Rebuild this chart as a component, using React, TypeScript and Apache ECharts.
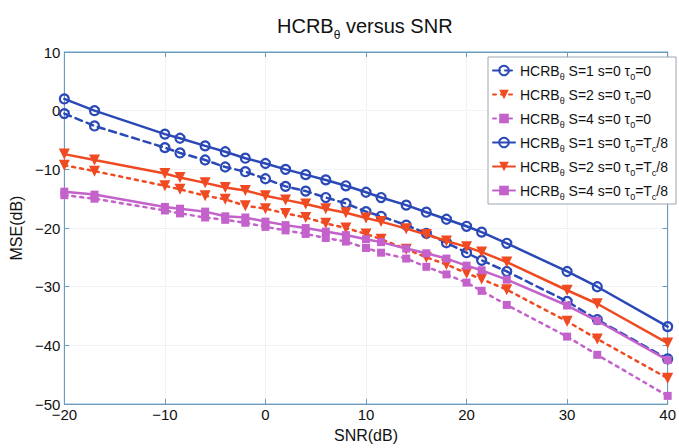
import React, { useEffect, useRef } from "react";
import * as echarts from "echarts";

const snrDb = [-20, -17, -10, -8.5, -6, -4, -2, 0, 2, 4, 6, 8, 10, 11.5, 14, 16, 18, 20, 21.5, 24, 30, 33, 40];

const s1Tau0 = [-0.5, -2.6, -6.3, -7.2, -8.4, -9.6, -10.4, -11.6, -12.9, -13.7, -14.8, -15.8, -17.2, -18.0, -19.5, -20.9, -22.5, -24.2, -25.5, -27.4, -32.5, -35.6, -42.3];
const s2Tau0 = [-9.3, -10.3, -12.8, -13.4, -14.5, -15.1, -16.2, -16.7, -17.5, -18.2, -19.2, -20.0, -21.0, -21.9, -23.6, -25.0, -26.2, -27.7, -28.7, -30.5, -35.9, -38.9, -45.6];
const s4Tau0 = [-14.4, -15.0, -17.0, -17.5, -18.2, -18.6, -19.1, -19.8, -20.4, -21.0, -21.7, -22.3, -23.4, -24.2, -25.2, -26.6, -27.9, -29.3, -30.7, -33.1, -38.5, -41.6, -48.6];
const s1TauTc8 = [2.0, 0.0, -4.0, -4.7, -6.0, -7.0, -8.1, -9.0, -10.0, -10.9, -11.8, -12.8, -13.9, -14.8, -16.1, -17.3, -18.5, -19.7, -20.7, -22.6, -27.4, -30.0, -36.8];
const s2TauTc8 = [-7.4, -8.4, -10.7, -11.4, -12.3, -13.1, -13.6, -14.5, -15.2, -15.9, -16.7, -17.4, -18.3, -18.9, -20.1, -21.1, -22.2, -23.2, -24.1, -25.8, -30.6, -32.9, -39.6];
const s4TauTc8 = [-13.8, -14.3, -16.4, -16.7, -17.2, -18.0, -18.2, -18.9, -19.5, -20.0, -20.6, -21.2, -21.9, -22.4, -23.5, -24.3, -25.2, -26.4, -27.2, -28.8, -33.2, -35.8, -42.5];

const seriesKeys = ["s1t0", "s2t0", "s4t0", "s1tc", "s2tc", "s4tc"];
const legendLabels = [
  "HCRB{s|θ} S=1 s=0 τ{s|0}=0",
  "HCRB{s|θ} S=2 s=0 τ{s|0}=0",
  "HCRB{s|θ} S=4 s=0 τ{s|0}=0",
  "HCRB{s|θ} S=1 s=0 τ{s|0}=T{s|c}/8",
  "HCRB{s|θ} S=2 s=0 τ{s|0}=T{s|c}/8",
  "HCRB{s|θ} S=4 s=0 τ{s|0}=T{s|c}/8",
];
const xTicks = { min: -20, max: 40, step: 10 };
const yTicks = { min: -50, max: 10, step: 10 };

const BLUE = "#2a49b6";
const RED = "#f04a22";
const PURPLE = "#c462cc";
const AXIS = "#6b9cbf";
const FONT = "Liberation Sans, Arial, sans-serif";

export default function App() {
  const ref = useRef<HTMLDivElement>(null);
  useEffect(() => {
    const chart = echarts.init(ref.current!, null, { renderer: "svg" });
    const values = [s1Tau0, s2Tau0, s4Tau0, s1TauTc8, s2TauTc8, s4TauTc8];
    const styles = [
      { color: BLUE, symbol: "circle", size: 9, rotate: 0, dash: [7, 5] as any, fill: "rgba(255,255,255,0)" },
      { color: RED, symbol: "triangle", size: 11, rotate: 180, dash: [3, 5] as any, fill: RED },
      { color: PURPLE, symbol: "rect", size: 8, rotate: 0, dash: [3, 5] as any, fill: PURPLE },
      { color: BLUE, symbol: "circle", size: 9, rotate: 0, dash: "solid" as any, fill: "rgba(255,255,255,0)" },
      { color: RED, symbol: "triangle", size: 11, rotate: 180, dash: "solid" as any, fill: RED },
      { color: PURPLE, symbol: "rect", size: 8, rotate: 0, dash: "solid" as any, fill: PURPLE },
    ];
    const labelMap: Record<string, string> = {};
    seriesKeys.forEach((k, i) => (labelMap[k] = legendLabels[i]));
    const fmt = (v: number) => String(v).replace("-", "−");
    const series = seriesKeys.map((k, i) => ({
      name: k,
      type: "line",
      data: snrDb.map((x, j) => [x, values[i][j]]),
      symbol: styles[i].symbol,
      symbolSize: styles[i].size,
      symbolRotate: styles[i].rotate,
      showAllSymbol: true,
      lineStyle: { color: styles[i].color, width: 2.5, type: styles[i].dash, cap: "round" },
      itemStyle: { color: styles[i].fill, borderColor: styles[i].color, borderWidth: styles[i].symbol === "circle" ? 2.2 : 0 },
      emphasis: { disabled: true },
      z: 2 + i,
    }));
    chart.setOption({
      animation: false,
      backgroundColor: "#ffffff",
      textStyle: { fontFamily: FONT },
      title: {
        text: "HCRB{s|θ} versus SNR",
        left: 272,
        top: 6,
        textStyle: {
          fontFamily: FONT,
          fontSize: 20,
          lineHeight: 30,
          fontWeight: "normal",
          color: "#111",
          rich: { s: { fontSize: 12, fontFamily: FONT, color: "#111", verticalAlign: "bottom", lineHeight: 12 } },
        },
      },
      grid: { left: 59, top: 52, right: 6, bottom: 30, show: true, borderColor: AXIS, borderWidth: 1 },
      legend: {
        orient: "vertical",
        left: 488,
        top: 57,
        padding: [3, 8, 3, 4],
        itemWidth: 22,
        itemHeight: 12,
        itemGap: 3,
        backgroundColor: "#ffffff",
        borderColor: "#9aa6b0",
        borderWidth: 1,
        selectedMode: false,
        data: seriesKeys,
        formatter: (name: string) => labelMap[name],
        textStyle: {
          fontFamily: FONT,
          fontSize: 14,
          lineHeight: 21,
          color: "#111",
          rich: { s: { fontSize: 9, fontFamily: FONT, color: "#111", verticalAlign: "bottom", lineHeight: 9 } },
        },
      },
      xAxis: [
        {
          type: "value",
          min: xTicks.min,
          max: xTicks.max,
          interval: xTicks.step,
          position: "bottom",
          name: "SNR(dB)",
          nameLocation: "middle",
          nameGap: 20,
          nameTextStyle: { fontFamily: FONT, fontSize: 16, color: "#111" },
          axisLine: { onZero: false, lineStyle: { color: AXIS, width: 1 } },
          axisTick: { inside: true, length: 5, lineStyle: { color: AXIS } },
          axisLabel: { color: "#111", fontSize: 15, fontFamily: FONT, margin: 3, formatter: fmt },
          splitLine: { show: true, lineStyle: { color: "#dde8f1", type: "dotted", width: 1 } },
        },
        {
          type: "value",
          min: xTicks.min,
          max: xTicks.max,
          interval: xTicks.step,
          position: "top",
          axisLine: { onZero: false, lineStyle: { color: AXIS, width: 1 } },
          axisTick: { inside: true, length: 5, lineStyle: { color: AXIS } },
          axisLabel: { show: false },
          splitLine: { show: false },
        },
      ],
      yAxis: [
        {
          type: "value",
          min: yTicks.min,
          max: yTicks.max,
          interval: yTicks.step,
          position: "left",
          name: "MSE(dB)",
          nameLocation: "middle",
          nameGap: 29,
          nameTextStyle: { fontFamily: FONT, fontSize: 16, color: "#111" },
          axisLine: { onZero: false, lineStyle: { color: AXIS, width: 1 } },
          axisTick: { inside: true, length: 5, lineStyle: { color: AXIS } },
          axisLabel: { color: "#111", fontSize: 15, fontFamily: FONT, margin: 4, formatter: fmt },
          splitLine: { show: true, lineStyle: { color: "#dde8f1", type: "dotted", width: 1 } },
        },
        {
          type: "value",
          min: yTicks.min,
          max: yTicks.max,
          interval: yTicks.step,
          position: "right",
          axisLine: { onZero: false, lineStyle: { color: AXIS, width: 1 } },
          axisTick: { inside: true, length: 5, lineStyle: { color: AXIS } },
          axisLabel: { show: false },
          splitLine: { show: false },
        },
      ],
      series,
    });
    return () => chart.dispose();
  }, []);
  return <div ref={ref} style={{ position: "absolute", left: 0, top: 0, width: 679, height: 448 }} />;
}
